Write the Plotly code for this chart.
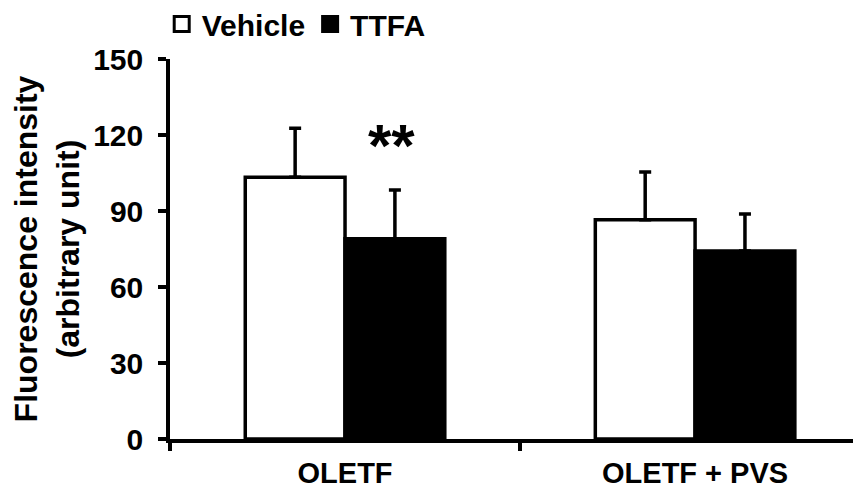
import plotly.graph_objects as go

categories = ["OLETF", "OLETF + PVS"]
vehicle = [103.3, 86.5]
vehicle_err = [19.4, 18.9]
ttfa = [79.0, 74.2]
ttfa_err = [19.3, 14.6]
y_ticks = [0, 30, 60, 90, 120, 150]

FONT = "Liberation Sans, Arial, sans-serif"

fig = go.Figure()
fig.add_trace(go.Bar(
    name="Vehicle", x=categories, y=vehicle, showlegend=False,
    marker=dict(color="white", line=dict(color="black", width=3.5)),
    error_y=dict(type="data", array=vehicle_err, arrayminus=[0, 0], symmetric=False,
                 color="black", thickness=3.5, width=6),
))
fig.add_trace(go.Bar(
    name="TTFA", x=categories, y=ttfa, showlegend=False,
    marker=dict(color="black", line=dict(color="black", width=3.5)),
    error_y=dict(type="data", array=ttfa_err, arrayminus=[0, 0], symmetric=False,
                 color="black", thickness=3.5, width=6),
))
# legend entries (square swatches like the original)
fig.add_trace(go.Scatter(
    name="Vehicle", x=[None], y=[None], mode="markers",
    marker=dict(symbol="square", size=15, color="white", line=dict(color="black", width=3)),
))
fig.add_trace(go.Scatter(
    name="TTFA", x=[None], y=[None], mode="markers",
    marker=dict(symbol="square", size=15, color="black", line=dict(color="black", width=3)),
))

fig.add_annotation(x=categories[0], y=ttfa[0] + ttfa_err[0] + 17.5, xref="x", yref="y",
                   xshift=46, text="**", showarrow=False,
                   font=dict(family=FONT, size=60, color="black", weight="bold"),
                   yanchor="middle")

# page body has an 8px default margin: size the figure so it fits the 861x494 window
fig.update_layout(
    width=853, height=486,
    paper_bgcolor="white", plot_bgcolor="white",
    margin=dict(l=162, r=0, t=51, b=55, autoexpand=False),
    barmode="group", bargap=0.43, bargroupgap=0,
    font=dict(family=FONT, color="black", size=28, weight="bold"),
    showlegend=True,
    legend=dict(orientation="h", x=-0.012, xanchor="left", y=1.092, yanchor="middle",
                font=dict(family=FONT, size=30, color="black", weight="bold"),
                itemsizing="trace", itemwidth=30, tracegroupgap=0,
                bgcolor="rgba(0,0,0,0)"),
)
fig.update_xaxes(
    type="category", range=[-0.5, 1.474], automargin=False,
    showline=True, linecolor="black", linewidth=3.5,
    ticks="outside", tickson="boundaries", ticklen=8, tickwidth=3.5, tickcolor="black",
    tickfont=dict(family=FONT, size=29, color="black", weight="bold"),
    ticklabelstandoff=5,
    showgrid=False, zeroline=False,
)
fig.update_yaxes(
    range=[0, 150], tickvals=y_ticks, automargin=False,
    showline=True, linecolor="black", linewidth=3.5,
    ticks="outside", ticklen=8, tickwidth=3.5, tickcolor="black",
    tickfont=dict(family=FONT, size=30, color="black", weight="bold"),
    ticklabelstandoff=9,
    showgrid=False, zeroline=False,
    title=dict(text="Fluorescence intensity<br>(arbitrary unit)",
               font=dict(family=FONT, size=32, color="black", weight="bold"), standoff=14),
)

fig.write_html("out.html")
